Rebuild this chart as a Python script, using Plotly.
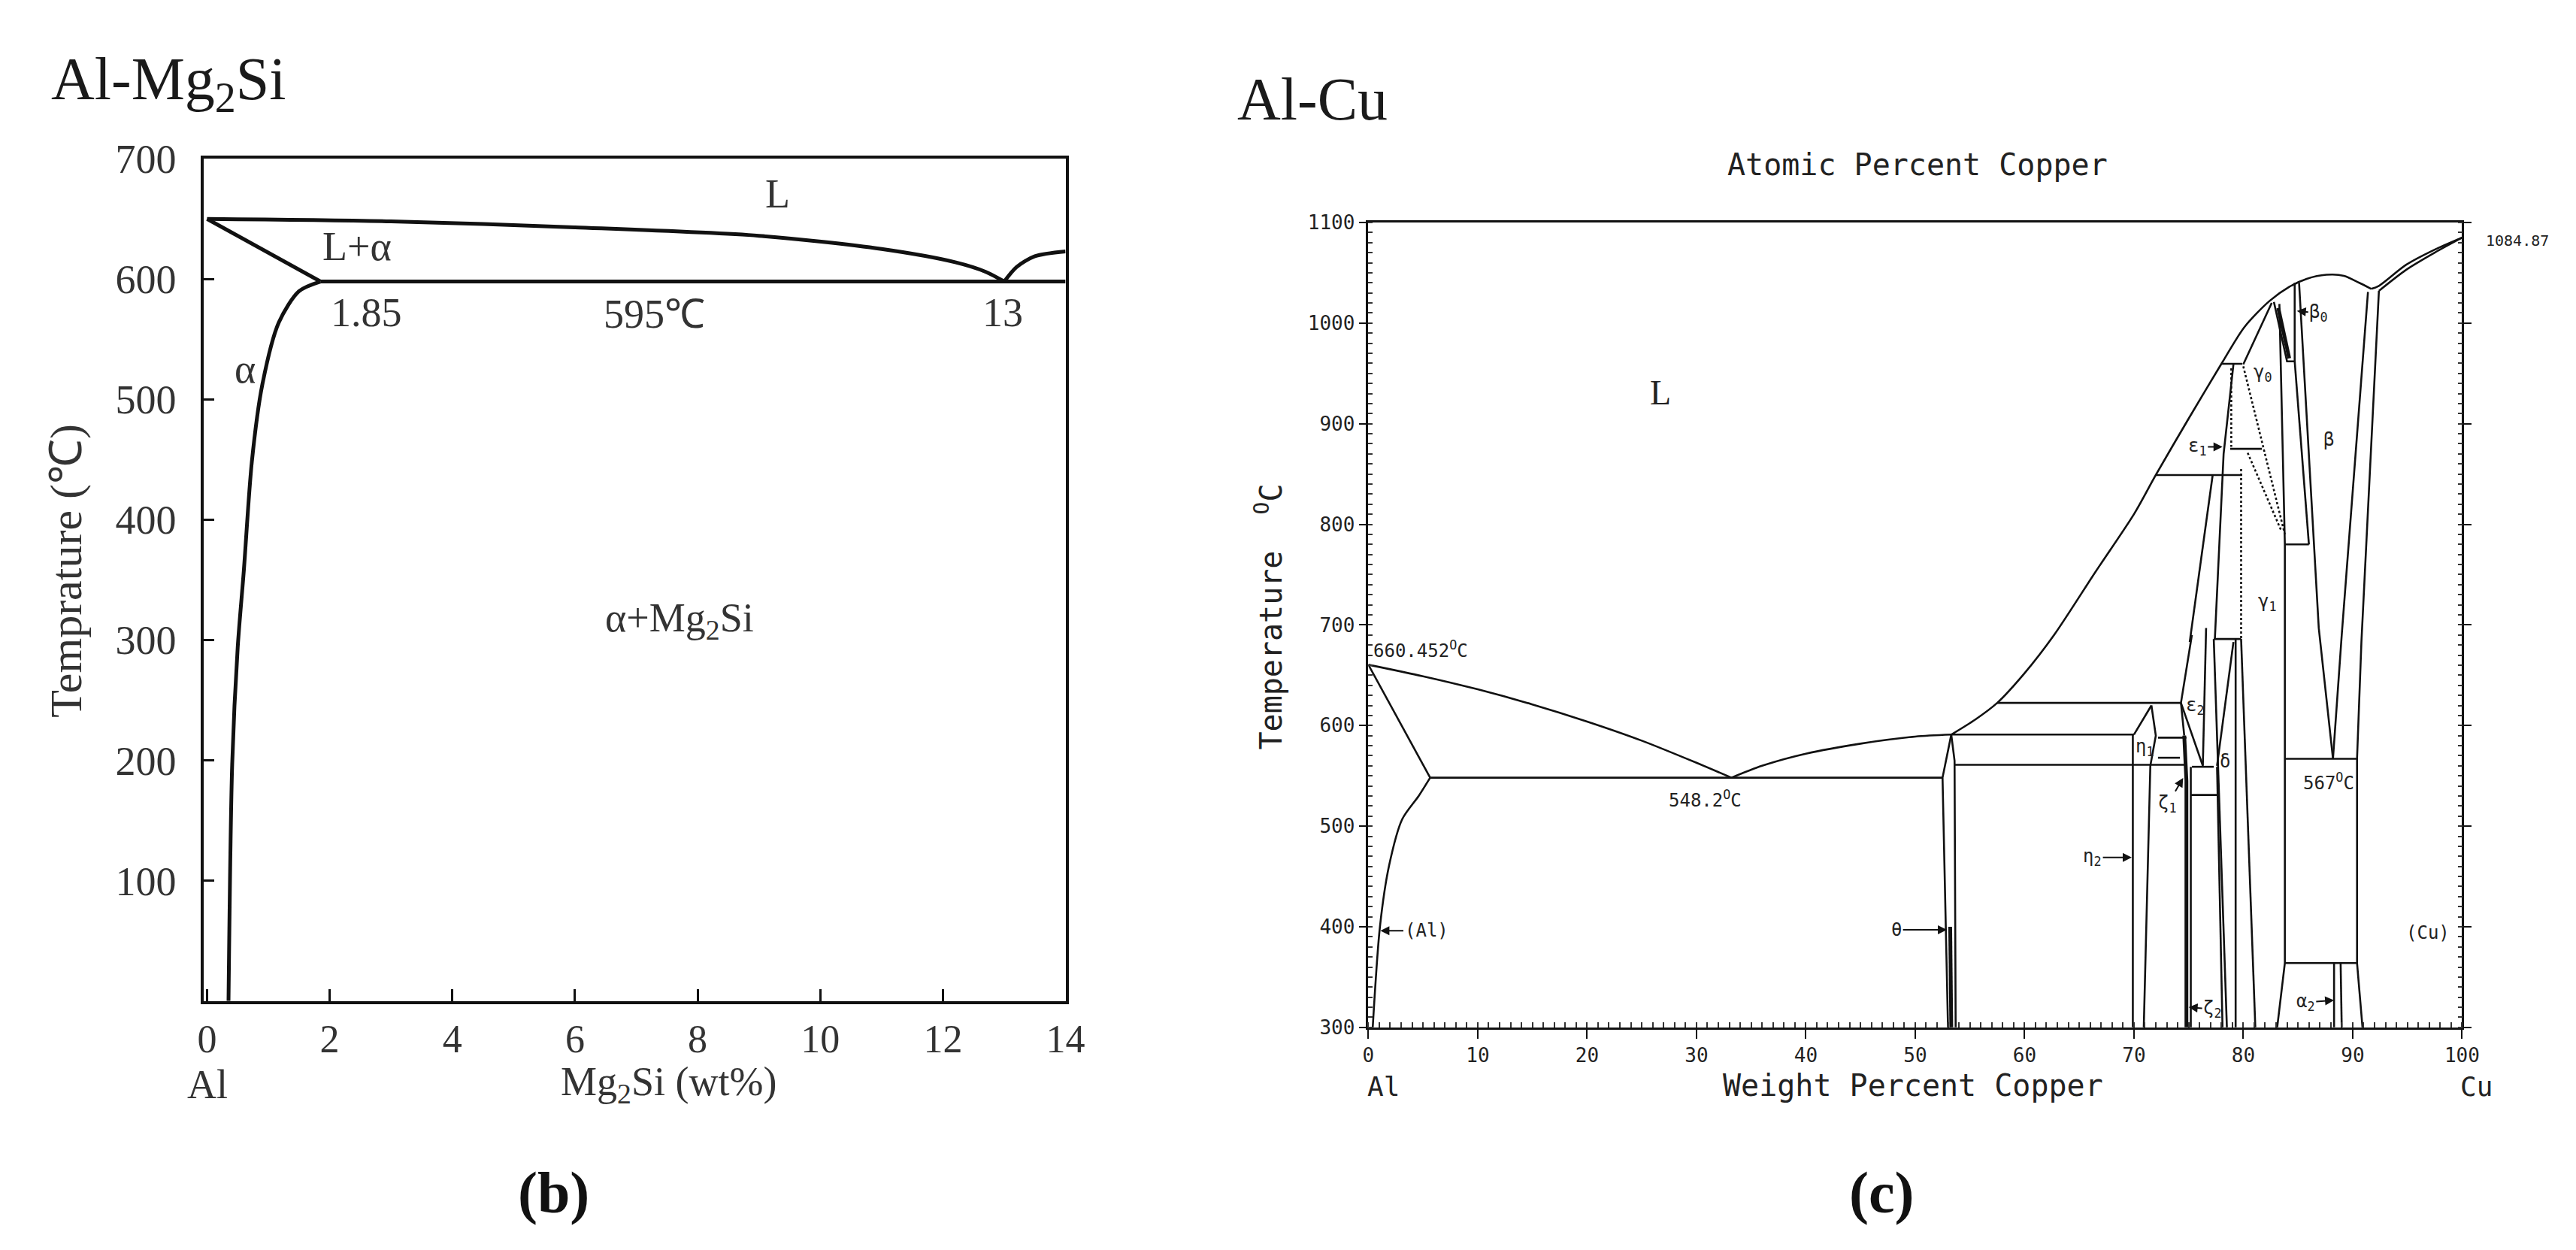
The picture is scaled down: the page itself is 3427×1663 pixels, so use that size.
import plotly.graph_objects as go

# ---------------- Al-Mg2Si (panel b) data ----------------
mg_liq_wt = [0, 3, 6, 9, 11, 12.2, 12.7, 13]
mg_liq_T = [650, 648, 643, 636, 625, 614, 606, 598]
mg_liq2_wt = [13, 13.2, 13.5, 14]
mg_liq2_T = [598, 610, 619, 623]
mg_sol_wt = [0, 1.85]
mg_sol_T = [650, 598]
mg_eut_wt = [1.85, 14]
mg_eut_T = [598, 598]
mg_solvus_wt = [1.85, 1.5, 1.17, 0.9, 0.73, 0.6, 0.5, 0.41, 0.35]
mg_solvus_T = [598, 590, 564, 512, 448, 358, 294, 197, 0]
mg_xticks = [0, 2, 4, 6, 8, 10, 12, 14]
mg_yticks = [100, 200, 300, 400, 500, 600, 700]
mg_label_text = ["L", "L+α", "1.85", "595℃", "13", "α", "α+Mg<sub>2</sub>Si"]
mg_label_wt = [9.3, 2.45, 2.6, 7.3, 12.97, 0.62, 7.7]
mg_label_T = [671, 627, 572, 571, 572, 525, 316]

# ---------------- Al-Cu (panel c) data ----------------
cu_curves = {
    "liq_al": ([0, 5, 10, 15, 20, 25, 30, 33.2], [660.45, 649, 636, 621, 604, 585, 563, 548.2]),
    "solvus_al": ([5.65, 4.6, 3.1, 1.9, 1.06, 0.4], [548.2, 530, 507, 461, 400, 300]),
    "liq_mid": ([33.2, 36, 40, 45, 50, 53.3], [548.2, 560, 572, 582, 589, 591]),
    "liq_up": ([53.3, 55.5, 57.5, 60, 62.7, 66.5, 70, 72, 75, 78, 80.1, 82.4, 84.2, 85.8, 87.6, 89.2, 90.6, 91.7],
               [591, 606, 622.5, 652, 690, 753, 810, 849, 905, 959.5, 996, 1022, 1036, 1044, 1048, 1047, 1040, 1034]),
    "liq_cu": ([91.7, 92.4, 94.9, 97.5, 100], [1034, 1037, 1058, 1073, 1084.87]),
    "sol_cu": ([92.4, 94.9, 97.5, 100], [1032, 1053, 1070, 1084.87]),
}
cu_lines = {
    "sol_al": ([0, 5.65], [660.45, 548.2]),
    "eut_548": ([5.65, 52.5], [548.2, 548.2]),
    "solvus_cu": ([92.4, 90.8, 90.4, 90.4, 90.9], [1032, 683, 567, 364, 300]),
    "beta_right": ([91.4, 89.0, 88.2], [1031, 690, 567]),
    "beta_left": ([85.1, 86.9, 88.2], [1040, 697, 567]),
    "eutectoid_567": ([83.8, 90.4], [567, 567]),
    "gamma_right": ([83.3, 83.8, 83.8, 83.1], [1019, 780, 364, 300]),
    "line_363": ([83.8, 90.4], [364, 364]),
    "alpha2_a": ([88.3, 88.3], [364, 300]),
    "alpha2_b": ([88.9, 89.0], [364, 300]),
    "beta0": ([82.8, 84.0, 84.7, 84.7], [1021, 962, 962, 1040]),
    "line_780": ([83.8, 86.0], [780, 780]),
    "beta_inner": ([84.7, 86.0], [962, 780]),
    "g0_top": ([78.0, 79.9], [959.5, 959.5]),
    "g0_edge": ([80.0, 82.6], [959, 1020]),
    "e1_right": ([79.1, 78.2, 77.4], [959, 870, 686]),
    "h_875": ([78.8, 81.7], [875, 875]),
    "h_849": ([72.0, 79.9], [849, 849]),
    "e1_left": ([77.2, 75.1], [849, 683]),
    "h_686": ([77.3, 79.8], [686, 686]),
    "g1_left": ([79.3, 79.3], [686, 300]),
    "g1_right": ([79.8, 81.1], [686, 300]),
    "d_right": ([77.3, 78.5], [686, 300]),
    "e2_left": ([75.3, 74.3], [690, 622.5]),
    "e2_diag": ([74.3, 76.3], [622.5, 560]),
    "e2_right": ([76.6, 76.3], [697, 560]),
    "d_left_diag": ([79.1, 77.6], [683, 560]),
    "h_622": ([57.5, 74.3], [622.5, 622.5]),
    "h_591": ([53.3, 70.0], [591, 591]),
    "h_561": ([53.6, 74.8], [561, 561]),
    "eta_left": ([69.9, 69.9], [591, 300]),
    "eta_top": ([70.0, 71.6], [591, 620]),
    "eta_right": ([71.6, 72.0, 71.5, 70.9], [620, 590, 560, 300]),
    "h_588": ([72.2, 74.8], [588, 588]),
    "h_568": ([72.2, 74.2], [568, 568]),
    "zeta_left": ([74.3, 74.6], [622.5, 590]),
    "box_559": ([75.3, 77.3], [559, 559]),
    "box_531": ([75.2, 77.6], [531, 531]),
    "v_752": ([75.2, 75.2], [559, 300]),
    "v_778": ([77.6, 78.1], [559, 300]),
    "theta_left": ([53.3, 52.5, 53.0], [591, 548.2, 300]),
    "theta_right": ([53.3, 53.6, 53.7], [591, 565, 300]),
}
cu_thick = {
    "zeta_thick": ([74.6, 74.8, 74.8], [590, 545, 300]),
    "theta_thick": ([53.2, 53.3], [400, 300]),
    "beta0_core": ([83.2, 84.2], [1015, 965]),
}
cu_dashed = {
    "dash_a": ([80.0, 83.8], [957, 790]),
    "dash_b": ([80.4, 83.5], [871, 793]),
    "dash_c": ([79.8, 79.8], [855, 686]),
    "dash_d": ([78.9, 78.9], [955, 877]),
}
cu_wt_ticks = [0, 10, 20, 30, 40, 50, 60, 70, 80, 90, 100]
cu_at_labels = ["0", "10", "20", "30", "40", "50", "60", "70", "80", "90", "100"]
cu_at_as_wt = [0, 20.74, 37.06, 50.23, 61.09, 70.19, 77.94, 84.60, 90.40, 95.49, 100]
cu_T_ticks = [300, 400, 500, 600, 700, 800, 900, 1000, 1100]

cu_label_text = ["γ<sub>0</sub>", "γ<sub>1</sub>", "β", "ε<sub>2</sub>", "η<sub>1</sub>", "δ", "(Cu)",
                 "548.2<sup>O</sup>C", "567<sup>O</sup>C"]
cu_label_wt = [81.8, 82.2, 87.8, 75.6, 71.0, 78.3, 96.9, 30.8, 87.8]
cu_label_T = [950, 722, 884, 619, 578, 564, 394, 527, 544]

arrow_text = ["(Al)", "θ", "η<sub>2</sub>", "ε<sub>1</sub>", "β<sub>0</sub>", "ζ<sub>1</sub>", "ζ<sub>2</sub>", "α<sub>2</sub>"]
arrow_tip_wt = [1.1, 52.9, 69.8, 78.1, 84.9, 74.5, 75.0, 88.3]
arrow_tip_T = [396, 397, 469, 877, 1012, 548, 320, 327]
arrow_txt_wt = [5.3, 48.3, 66.2, 75.8, 86.9, 73.1, 77.2, 85.7]
arrow_txt_T = [396, 397, 469, 877, 1010, 522, 318, 325]

# ---------------- figure ----------------
W, H = 3427, 1663
INK = "#111111"
SERIF = "Liberation Serif"
MONO = "DejaVu Sans Mono"

fig = go.Figure()


def add_line(xs, ys, xa, ya, width, dash="solid", shape="linear"):
    fig.add_trace(go.Scatter(x=xs, y=ys, mode="lines", xaxis=xa, yaxis=ya,
                             line=dict(color=INK, width=width, dash=dash, shape=shape,
                                       smoothing=0.8 if shape == "spline" else None),
                             showlegend=False, hoverinfo="skip"))


add_line(mg_liq_wt, mg_liq_T, "x", "y", 5, shape="spline")
add_line(mg_liq2_wt, mg_liq2_T, "x", "y", 5, shape="spline")
add_line(mg_sol_wt, mg_sol_T, "x", "y", 5)
add_line(mg_eut_wt, mg_eut_T, "x", "y", 5)
add_line(mg_solvus_wt, mg_solvus_T, "x", "y", 5, shape="spline")

for k, (xs, ys) in cu_curves.items():
    add_line(xs, ys, "x2", "y2", 2.6, shape="spline")
for k, (xs, ys) in cu_lines.items():
    add_line(xs, ys, "x2", "y2", 2.6)
for k, (xs, ys) in cu_thick.items():
    add_line(xs, ys, "x2", "y2", 5)
for k, (xs, ys) in cu_dashed.items():
    add_line(xs, ys, "x2", "y2", 2.6, dash="dot")

ann = []
for t, x, y in zip(mg_label_text, mg_label_wt, mg_label_T):
    ann.append(dict(text=t, x=x, y=y, xref="x", yref="y", showarrow=False,
                    font=dict(family=SERIF, size=54, color="#333")))

for t, x, y in zip(cu_label_text, cu_label_wt, cu_label_T):
    ann.append(dict(text=t, x=x, y=y, xref="x2", yref="y2", showarrow=False,
                    font=dict(family=MONO, size=24, color="#222")))
ann.append(dict(text="L", x=26.7, y=931, xref="x2", yref="y2", showarrow=False,
                font=dict(family=SERIF, size=46, color="#222")))
ann.append(dict(text="660.452<sup>O</sup>C", x=0.3, y=676, xref="x2", yref="y2", xanchor="left",
                showarrow=False, font=dict(family=MONO, size=24, color="#222")))
ann.append(dict(text="1084.87", x=0.9694, y=1082, xref="paper", yref="y2", xanchor="left",
                showarrow=False, font=dict(family=MONO, size=20, color="#222")))

for t, tx, ty, ax, ay in zip(arrow_text, arrow_tip_wt, arrow_tip_T, arrow_txt_wt, arrow_txt_T):
    ann.append(dict(text=t, x=tx, y=ty, ax=ax, ay=ay, xref="x2", yref="y2", axref="x2", ayref="y2",
                    showarrow=True, arrowhead=2, arrowsize=1.2, arrowwidth=2, arrowcolor=INK,
                    font=dict(family=MONO, size=24, color="#222")))


def pap(text, x, y, size, family, xanchor="center", angle=0, bold=False, color="#222"):
    if bold:
        text = "<b>" + text + "</b>"
    ann.append(dict(text=text, x=x / W, y=1 - y / H, xref="paper", yref="paper", xanchor=xanchor,
                    yanchor="middle", showarrow=False, textangle=angle,
                    font=dict(family=family, size=size, color=color)))


pap("Al-Mg<sub>2</sub>Si", 50, 76, 80, SERIF, xanchor="left", color="#1a1a1a")
pap("Al-Cu", 1644, 98, 80, SERIF, xanchor="left", color="#1a1a1a")
pap("Temprature (℃)", 72, 742, 60, SERIF, angle=-90, color="#333")
pap("Al", 262, 1444, 54, SERIF, color="#333")
pap("Mg<sub>2</sub>Si (wt%)", 881, 1444, 54, SERIF, color="#333")
pap("(b)", 727, 1592, 78, SERIF, bold=True, color="#111")
pap("(c)", 2512, 1592, 78, SERIF, bold=True, color="#111")
pap("Atomic Percent Copper", 2560, 187, 40, MONO)
pap("Weight Percent Copper", 2554, 1445, 40, MONO)
pap("Al", 1842, 1447, 36, MONO)
pap("Cu", 3311, 1447, 36, MONO)
pap("Temperature  <sup>O</sup>C", 1688, 805, 40, MONO, angle=-90)

dom_x1 = [257 / W, 1415 / W]
dom_y1 = [1 - 1330 / H, 1 - 179 / H]
dom_x2 = [1822 / W, 3292 / W]
dom_y2 = [1 - 1366 / H, 1 - 266 / H]

fig.update_layout(
    width=W, height=H, autosize=False, margin=dict(l=0, r=0, t=0, b=0),
    paper_bgcolor="white", plot_bgcolor="white", showlegend=False,
    annotations=ann,
    xaxis=dict(domain=dom_x1, anchor="y", range=[-0.05, 14], showline=True, linewidth=4, linecolor=INK,
               mirror=True, ticks="inside", ticklen=16, tickwidth=3, tickcolor=INK,
               tickvals=mg_xticks, ticktext=[str(v) for v in mg_xticks], showgrid=False, zeroline=False,
               tickfont=dict(family=SERIF, size=52, color="#333"), ticklabelstandoff=2),
    yaxis=dict(domain=dom_y1, anchor="x", range=[0, 700], showline=True, linewidth=4, linecolor=INK,
               mirror=True, ticks="inside", ticklen=14, tickwidth=3, tickcolor=INK,
               tickvals=mg_yticks, ticktext=[str(v) for v in mg_yticks], showgrid=False, zeroline=False,
               tickfont=dict(family=SERIF, size=54, color="#333"), ticklabelstandoff=22),
    xaxis2=dict(domain=dom_x2, anchor="y2", range=[0, 100], showline=True, linewidth=2.5, linecolor=INK,
                mirror=True, ticks="outside", ticklen=12, tickwidth=2, tickcolor=INK,
                tickvals=cu_wt_ticks, ticktext=[str(v) for v in cu_wt_ticks], showgrid=False, zeroline=False,
                minor=dict(ticks="inside", dtick=1, tick0=0, ticklen=7, tickwidth=1.5, tickcolor="#333", showgrid=False),
                tickfont=dict(family=MONO, size=26, color="#222")),
    yaxis2=dict(domain=dom_y2, anchor="x2", range=[300, 1100], showline=True, linewidth=2.5, linecolor=INK,
                mirror="allticks", ticks="outside", ticklen=10, tickwidth=2, tickcolor=INK,
                tickvals=cu_T_ticks, ticktext=[str(v) for v in cu_T_ticks], showgrid=False, zeroline=False,
                minor=dict(ticks="inside", dtick=10, tick0=300, ticklen=6, tickwidth=1.5, tickcolor="#333", showgrid=False),
                tickfont=dict(family=MONO, size=26, color="#222")),
    xaxis3=dict(domain=dom_x2, overlaying="x2", anchor="y2", side="top", range=[0, 100], showline=False,
                ticks="outside", ticklen=12, tickwidth=2, tickcolor=INK, tickvals=cu_at_as_wt,
                ticktext=cu_at_labels, showgrid=False, zeroline=False,
                tickfont=dict(family=MONO, size=26, color="#222")),
    xaxis4=dict(domain=dom_x2, overlaying="x2", anchor="y2", side="top", range=[0, 100], showline=False,
                ticks="inside", ticklen=12, tickwidth=2, tickcolor=INK, tickvals=cu_wt_ticks,
                showticklabels=False, showgrid=False, zeroline=False,
                minor=dict(ticks="inside", dtick=1, tick0=0, ticklen=7, tickwidth=1.5, tickcolor="#333", showgrid=False)),
)

fig.write_html("out.html")
